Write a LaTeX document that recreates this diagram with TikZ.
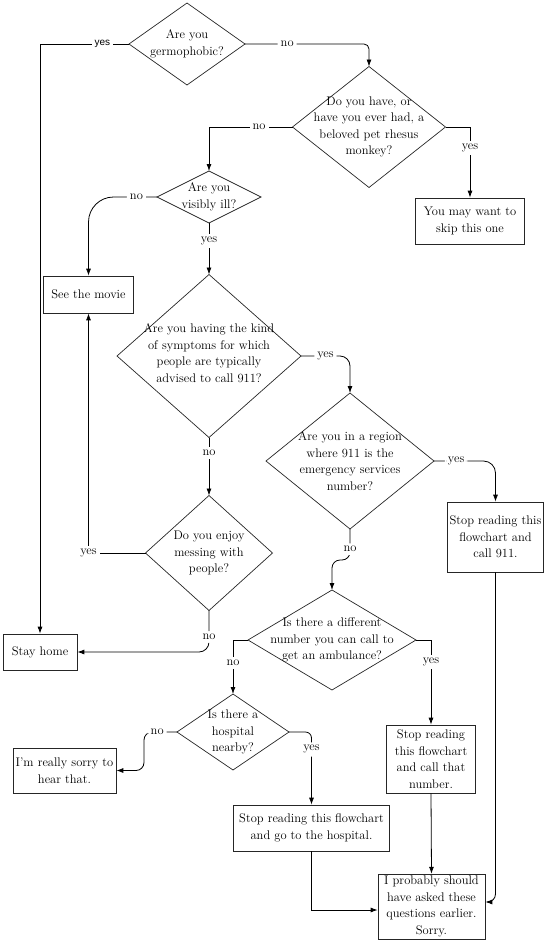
\documentclass[tikz,border=0pt]{standalone}
\usepackage{fontspec}
\newfontfamily\labelsans{Liberation Sans}
\usetikzlibrary{arrows.meta, shapes.geometric}

\begin{document}
\begin{tikzpicture}[
    x=1pt,
    y=-1pt,
    font=\fontsize{12.5}{16.5}\selectfont,
    pergunta/.style={
        draw=black!85,
        line width=0.7pt,
        shape=diamond,
        inner sep=0pt,
        outer sep=0pt
    },
    qtexto/.style={
        align=center,
        inner sep=0pt
    },
    caixa/.style={
        draw=black!85,
        line width=0.7pt,
        align=center,
        inner sep=2pt
    },
    rotulo/.style={
        fill=white,
        inner sep=3pt
    },
    seta/.style={
        -{Latex[length=7pt,width=5pt]},
        line width=0.8pt
    }
]

\useasboundingbox (0,0) rectangle (545,940);

% =================================================
% PERGUNTAS
% =================================================

\node[pergunta, minimum width=116pt, minimum height=82pt,
    label={[qtexto]center:{Are you\\germophobic?}}] (d1) at (187,44) {};

\node[pergunta, minimum width=153pt, minimum height=121pt,
    label={[qtexto]center:{Do you have, or\\have you ever had, a\\beloved pet rhesus\\monkey?}}] (d2) at (369,127) {};

\node[pergunta, minimum width=104pt, minimum height=52pt,
    label={[qtexto]center:{Are you\\visibly ill?}}] (d3) at (209,197) {};

\node[pergunta, minimum width=184pt, minimum height=163pt,
    label={[qtexto, yshift=3pt]center:{Are you having the kind\\of symptoms for which\\people are typically\\advised to call 911?}}] (d4) at (209,356) {};

\node[pergunta, minimum width=168pt, minimum height=136pt,
    label={[qtexto]center:{Are you in a region\\where 911 is the\\emergency services\\number?}}] (d5) at (350,461) {};

\node[pergunta, minimum width=127pt, minimum height=115pt,
    label={[qtexto]center:{Do you enjoy\\messing with\\people?}}] (d6) at (209,553) {};

\node[pergunta, minimum width=168pt, minimum height=100pt,
    label={[qtexto]center:{Is there a different\\number you can call to\\get an ambulance?}}] (d7) at (332,640) {};

\node[pergunta, minimum width=112pt, minimum height=76pt,
    label={[qtexto]center:{Is there a\\hospital\\nearby?}}] (d8) at (233,732) {};

% =================================================
% RESPOSTAS
% =================================================

\node[caixa, minimum width=109pt, minimum height=46pt] (skip) at (470,221)
{You may want to\\skip this one};

\node[caixa, minimum width=90pt, minimum height=37pt] (movie) at (88.5,294.5)
{See the movie};

\node[caixa, minimum width=96pt, minimum height=70pt] (call911) at (495.5,537)
{Stop reading this\\flowchart and\\call 911.};

\node[caixa, minimum width=74pt, minimum height=36pt] (home) at (40,652)
{Stay home};

\node[caixa, minimum width=103pt, minimum height=45pt] (sorry) at (64.5,770.5)
{I'm really sorry to\\hear that.};

\node[caixa, minimum width=89pt, minimum height=68pt] (callnum) at (431,759)
{Stop reading\\this flowchart\\and call that\\number.};

\node[caixa, minimum width=156pt, minimum height=46pt] (hosp) at (311.5,828)
{Stop reading this flowchart\\and go to the hospital.};

\node[caixa, minimum width=107pt, minimum height=64pt] (prob) at (431.5,906.5)
{I probably should\\have asked these\\questions earlier.\\Sorry.};

% =================================================
% LIGACOES
% =================================================

\draw[seta] (d1.west) -| node[rotulo, pos=0.15, font={\labelsans\fontsize{10}{12}\selectfont}] {yes} (home.north);
\draw[seta, rounded corners=5pt] (d1.east) -| node[rotulo, pos=0.17] {no} (d2.north);

\draw[seta] (d2.west) -| node[rotulo, pos=0.2] {no} (d3.north);
\draw[seta] (d2.east) -| node[rotulo, pos=0.65] {yes} (skip.north);

\draw[seta, rounded corners=25pt] (d3.west) -| node[rotulo, pos=0.15] {no} (movie.north);
\draw[seta] (d3.south) -- node[rotulo, pos=0.35] {yes} (d4.north);

\draw[seta, rounded corners=10pt] (d4.east) -| node[rotulo, pos=0.25] {yes} (d5.north);
\draw[seta] (d4.south) -- node[rotulo, pos=0.27] {no} (d6.north);

\draw[seta, rounded corners=12pt] (d5.east) -| node[rotulo, pos=0.18] {yes} (call911.north);
\draw[seta, rounded corners=8pt] (d5.south) -- node[rotulo, pos=0.65] {no} ++(0,31) -| (d7.north);

\draw[seta] (d6.west) -| node[rotulo, pos=0.5] {yes} (movie.south);
\draw[seta, rounded corners=10pt] (d6.south) |- node[rotulo, pos=0.32] {no} (home.east);

\draw[seta] (d7.west) -| node[rotulo, pos=0.71] {no} (d8.north);
\draw[seta] (d7.east) -| node[rotulo, pos=0.63] {yes} (callnum.north);

\draw[seta, rounded corners=8pt] (d8.west) -- node[rotulo, pos=0.6] {no} ++(-33,0) |- (sorry.east);
\draw[seta, rounded corners=6pt] (d8.east) -| node[rotulo, pos=0.62] {yes} (hosp.north);

\draw[seta] (callnum.south) -- (prob.north);
\draw[seta] (hosp.south) |- ([yshift=-3.5pt]prob.west);
\draw[seta, rounded corners=8pt] (call911.south) |- ([yshift=4.5pt]prob.east);

\end{tikzpicture}
\end{document}
